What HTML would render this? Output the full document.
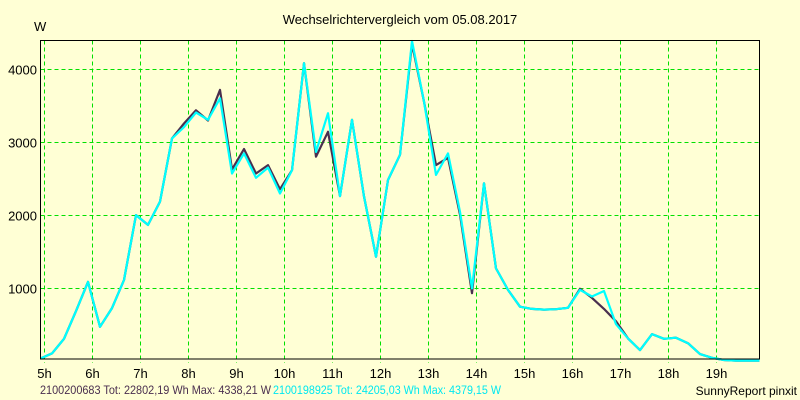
<!DOCTYPE html>
<html><head><meta charset="utf-8"><style>
html,body{margin:0;padding:0;background:#ffffd5;}
svg{display:block;font-family:"Liberation Sans",Arial,sans-serif;}
</style></head><body>
<svg width="800" height="400" xmlns="http://www.w3.org/2000/svg">
<rect x="0" y="0" width="800" height="400" fill="#ffffd5"/>
<text x="400" y="24" font-size="13" text-anchor="middle" fill="#000">Wechselrichtervergleich vom 05.08.2017</text>
<text x="34" y="31" font-size="13" fill="#000">W</text>
<g id="grid"></g>
<g id="series"></g>
<rect x="40.5" y="40.5" width="719" height="318.5" fill="none" stroke="#000" stroke-width="1"/>
<g id="ticks"></g>
<text x="40" y="394" font-size="12" fill="#4a2f4f" textLength="231" lengthAdjust="spacingAndGlyphs">2100200683 Tot: 22802,19 Wh Max: 4338,21 W</text>
<text x="273" y="394" font-size="12" fill="#00e8f0" textLength="228" lengthAdjust="spacingAndGlyphs">2100198925 Tot: 24205,03 Wh Max: 4379,15 W</text>
<text x="797" y="395" font-size="12" text-anchor="end" fill="#000">SunnyReport pinxit</text>
</svg>
<script>
const hourTicks = [5,6,7,8,9,10,11,12,13,14,15,16,17,18,19];
const hourLabels = ["5h","6h","7h","8h","9h","10h","11h","12h","13h","14h","15h","16h","17h","18h","19h"];
const yTicks = [1000,2000,3000,4000];
const yLabels = ["1000","2000","3000","4000"];
const startHour = 4.9167;
const stepHours = 0.25;
const seriesDark = [30,100,300,680,1080,465,720,1105,1995,1860,2180,3045,3250,3430,3290,3710,2620,2900,2565,2680,2350,2610,4075,2795,3135,2255,3300,2250,1425,2475,2820,4340,3550,2680,2780,2000,925,2430,1265,970,740,710,700,705,725,985,860,710,540,305,145,365,300,315,240,90,40,10,0,0,0,0,0,0];
const seriesCyan = [30,100,300,680,1080,465,720,1105,1995,1860,2180,3045,3200,3400,3300,3595,2565,2840,2505,2645,2290,2610,4075,2860,3390,2255,3300,2250,1425,2475,2820,4380,3550,2545,2840,2040,990,2430,1265,970,740,710,700,705,725,970,880,955,500,305,145,365,300,315,240,90,40,10,0,0,0,0,0,0];
const NS="http://www.w3.org/2000/svg";
const xL=40.5,xR=759.5,yT=40.5,yB=359;
function xScale(h){return 44+(h-5)*48;}
function yScale(v){return 360.7-v*0.073;}
const grid=document.getElementById('grid'),ticks=document.getElementById('ticks'),series=document.getElementById('series');
hourTicks.forEach((h,i)=>{
  const x=Math.round(xScale(h))+0.5;
  const l=document.createElementNS(NS,'line');
  
  
  l.setAttribute('x1',x);l.setAttribute('x2',x);l.setAttribute('y1',yT);l.setAttribute('y2',yB+4);
  l.setAttribute('stroke','#00e000');l.setAttribute('stroke-dasharray','4,3');
  grid.appendChild(l);
  const t=document.createElementNS(NS,'text');
  
  
  t.setAttribute('x',x);t.setAttribute('y',378);t.setAttribute('font-size','13');t.setAttribute('text-anchor','middle');
  t.textContent=hourLabels[i];ticks.appendChild(t);
});
yTicks.forEach((v,i)=>{
  const y=Math.round(yScale(v))+0.5;
  const l=document.createElementNS(NS,'line');
  
  
  l.setAttribute('x1',xL);l.setAttribute('x2',xR);l.setAttribute('y1',y);l.setAttribute('y2',y);
  l.setAttribute('stroke','#00e000');l.setAttribute('stroke-dasharray','4,3');
  grid.appendChild(l);
  const t=document.createElementNS(NS,'text');
  
  
  t.setAttribute('x',37);t.setAttribute('y',y+5);t.setAttribute('font-size','13');t.setAttribute('text-anchor','end');
  t.textContent=yLabels[i];ticks.appendChild(t);
});
function drawLine(vals,color,w,name){
  const pts=vals.map((v,k)=>{let x=xScale(startHour+k*stepHours);x=Math.min(Math.max(x,xL),xR);return x.toFixed(1)+','+yScale(v).toFixed(1);}).join(' ');
  const p=document.createElementNS(NS,'polyline');
  
  
  p.setAttribute('points',pts);p.setAttribute('fill','none');p.setAttribute('stroke',color);
  p.setAttribute('stroke-width',w);p.setAttribute('stroke-linejoin','round');
  series.appendChild(p);
}
drawLine(seriesDark,'#4a2f4f',2.2,'series-2100200683');
drawLine(seriesCyan,'#00ffff',2.2,'series-2100198925');
</script>
</body></html>
